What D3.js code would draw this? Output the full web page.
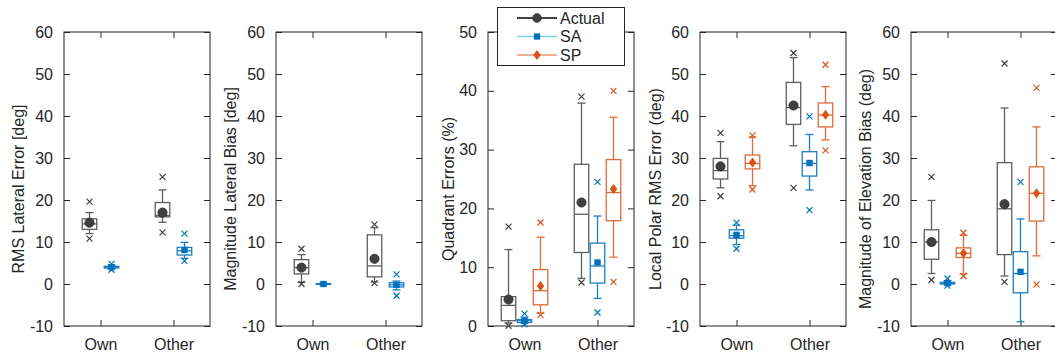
<!DOCTYPE html>
<html><head><meta charset="utf-8">
<script src="https://cdn.jsdelivr.net/npm/d3@7"></script>
<style>body{margin:0;background:#fff}svg{display:block;font-family:"Liberation Sans",Arial,sans-serif}</style>
</head><body>
<svg id="c" width="1055" height="354"></svg>
<script>
// ---------- DATA ----------
const categories = ["Own", "Other"];
const seriesNames = ["Actual", "SA", "SP"];
const yLabels = ["RMS Lateral Error [deg]", "Magnitude Lateral Bias [deg]", "Quadrant Errors (%)",
                 "Local Polar RMS Error (deg)", "Magnitude of Elevation Bias (deg)"];
const yTicksDeg = [-10, 0, 10, 20, 30, 40, 50, 60];
const yTicksPct = [0, 10, 20, 30, 40, 50];
// each stat: [whiskerLow, q1, median, q3, whiskerHigh, mean]  per category [Own, Other]
const rmsLatActual = [[12.0, 13.0, 14.3, 15.5, 17.0, 14.6], [14.7, 16.0, 16.3, 19.4, 22.4, 17.0]];
const rmsLatActualOut = [[19.6, 10.8], [25.5, 12.3]];
const rmsLatSA = [[3.6, 3.8, 4.0, 4.2, 4.5, 4.0], [6.1, 6.9, 7.9, 8.7, 9.9, 8.1]];
const rmsLatSAOut = [[4.8, 3.4], [12.0, 5.5]];

const latBiasActual = [[0.4, 2.4, 3.9, 5.8, 7.0, 3.9], [0.5, 1.7, 4.3, 11.7, 13.4, 6.0]];
const latBiasActualOut = [[8.4, 0.0], [14.2, 0.2]];
const latBiasSA = [[-0.2, -0.1, 0.0, 0.1, 0.2, 0.0], [-1.4, -0.7, -0.2, 0.3, 0.7, -0.2]];
const latBiasSAOut = [[], [2.3, -2.8]];

const quadActual = [[0.5, 0.9, 3.5, 5.0, 13.0, 4.5], [8.1, 12.5, 19.0, 27.5, 37.9, 21.0]];
const quadActualOut = [[16.9, 0.05], [39.0, 7.4]];
const quadSA = [[0.5, 0.6, 0.9, 1.1, 1.5, 0.85], [4.7, 7.3, 10.2, 14.1, 18.7, 10.8]];
const quadSAOut = [[2.1, 0.3], [24.5, 2.3]];
const quadSP = [[2.2, 3.6, 6.0, 9.6, 15.1, 6.8], [11.7, 17.9, 22.7, 28.3, 35.5, 23.3]];
const quadSPOut = [[17.6, 1.9], [40.0, 7.5]];

const polarActual = [[22.9, 25.0, 27.0, 29.9, 33.9, 28.0], [32.9, 38.0, 42.0, 48.0, 53.9, 42.5]];
const polarActualOut = [[36.0, 20.9], [55.0, 22.9]];
const polarSA = [[9.4, 10.9, 11.5, 12.9, 14.0, 11.7], [22.4, 25.7, 28.7, 31.5, 35.6, 28.8]];
const polarSAOut = [[14.6, 8.4], [39.9, 17.6]];
const polarSP = [[23.4, 27.4, 28.7, 30.7, 35.0, 28.9], [34.3, 37.4, 40.2, 43.1, 47.0, 40.3]];
const polarSPOut = [[35.4, 22.5], [52.2, 31.8]];

const elevActual = [[2.5, 5.9, 10.0, 12.9, 19.9, 10.0], [1.9, 7.0, 17.9, 28.9, 41.9, 19.0]];
const elevActualOut = [[25.5, 0.95], [52.5, 0.5]];
const elevSA = [[-0.2, 0.0, 0.2, 0.4, 0.8, 0.2], [-9.0, -2.1, 2.5, 7.7, 15.5, 2.9]];
const elevSAOut = [[1.3, -0.4], [24.3]];
const elevSP = [[2.4, 6.3, 7.3, 8.6, 11.6, 7.3], [6.7, 15.0, 21.6, 27.9, 37.4, 21.6]];
const elevSPOut = [[12.2, 1.9], [46.7, -0.1]];

// ---------- LAYOUT / STYLE ----------
const panelLefts = [64, 276, 488, 700, 911];
const labelX = [18, 230, 448, 655, 865];
const plotW = 146, plotTop = 32, plotBot = 326;
const boxColor = {Actual: "#5e5e5e", SA: "#1f7dc4", SP: "#dd6a38"};
const markColor = {Actual: "#404040", SA: "#0072BD", SP: "#D95319"};
const legendLineColor = {Actual: "#000000", SA: "#7fcdf2", SP: "#eb9673"};

const panels = [
  {domain: [-10, 60], ticks: yTicksDeg, series: [["Actual", rmsLatActual, rmsLatActualOut], ["SA", rmsLatSA, rmsLatSAOut]]},
  {domain: [-10, 60], ticks: yTicksDeg, series: [["Actual", latBiasActual, latBiasActualOut], ["SA", latBiasSA, latBiasSAOut]]},
  {domain: [0, 50], ticks: yTicksPct, series: [["Actual", quadActual, quadActualOut], ["SA", quadSA, quadSAOut], ["SP", quadSP, quadSPOut]]},
  {domain: [-10, 60], ticks: yTicksDeg, series: [["Actual", polarActual, polarActualOut], ["SA", polarSA, polarSAOut], ["SP", polarSP, polarSPOut]]},
  {domain: [-10, 60], ticks: yTicksDeg, series: [["Actual", elevActual, elevActualOut], ["SA", elevSA, elevSAOut], ["SP", elevSP, elevSPOut]]},
];

const svg = d3.select("#c");
const boxW = 14.5, capW = 8, tickLen = 6;
const axisCol = "#262626";

function drawMarker(g, name, x, y, size) {
  if (name === "Actual") {
    g.append("circle").attr("cx", x).attr("cy", y).attr("r", size || 4.6)
      .attr("fill", markColor.Actual).attr("stroke", "#2a2a2a").attr("stroke-width", 0.8);
  } else if (name === "SA") {
    const s = size ? size * 1.4 : 6.4;
    g.append("rect").attr("x", x - s / 2).attr("y", y - s / 2).attr("width", s).attr("height", s)
      .attr("fill", markColor.SA);
  } else {
    const h = size ? size * 1.1 : 5;
    g.append("path").attr("d", `M${x},${y - h}L${x + h * 0.75},${y}L${x},${y + h}L${x - h * 0.75},${y}Z`)
      .attr("fill", markColor.SP);
  }
}

panels.forEach((p, i) => {
  const left = panelLefts[i];
  const x = d3.scaleLinear().domain([0.5, 2.5]).range([left, left + plotW]);
  const y = d3.scaleLinear().domain(p.domain).range([plotBot, plotTop]);
  const g = svg.append("g");

  // y axis (left) with labels, inward ticks
  const ya = d3.axisLeft(y).tickValues(p.ticks).tickSize(-tickLen).tickPadding(11).tickFormat((d) => String(d));
  const yg = g.append("g").attr("transform", `translate(${left},0)`).call(ya);
  yg.select(".domain").remove();
  yg.selectAll("line").attr("stroke", axisCol);
  yg.selectAll("text").attr("font-size", 16).attr("fill", axisCol).attr("font-family", "Liberation Sans, Arial, sans-serif");
  // right inward ticks
  const yr = d3.axisRight(y).tickValues(p.ticks).tickSize(-tickLen).tickFormat("");
  const yrg = g.append("g").attr("transform", `translate(${left + plotW},0)`).call(yr);
  yrg.select(".domain").remove();
  yrg.selectAll("line").attr("stroke", axisCol);
  // bottom axis with category labels
  const xa = d3.axisBottom(x).tickValues([1, 2]).tickSize(-tickLen).tickPadding(13).tickFormat((d) => categories[d - 1]);
  const xg = g.append("g").attr("transform", `translate(0,${plotBot})`).call(xa);
  xg.select(".domain").remove();
  xg.selectAll("line").attr("stroke", axisCol);
  xg.selectAll("text").attr("font-size", 16).attr("fill", axisCol).attr("font-family", "Liberation Sans, Arial, sans-serif");
  const xt = d3.axisTop(x).tickValues([1, 2]).tickSize(-tickLen).tickFormat("");
  const xtg = g.append("g").attr("transform", `translate(0,${plotTop})`).call(xt);
  xtg.select(".domain").remove();
  xtg.selectAll("line").attr("stroke", axisCol);

  // box frame
  g.append("rect").attr("x", left).attr("y", plotTop).attr("width", plotW).attr("height", plotBot - plotTop)
    .attr("fill", "none").attr("stroke", axisCol).attr("stroke-width", 1);

  // y label
  g.append("text").attr("transform", `translate(${labelX[i] + 6},189) rotate(-90)`)
    .attr("text-anchor", "middle").attr("font-size", 16).attr("fill", axisCol).text(yLabels[i]);

  // boxes
  const n = p.series.length;
  const step = n === 2 ? 22 : 16;
  p.series.forEach(([name, stats, outs], si) => {
    const off = (si - (n - 1) / 2) * step;
    const col = boxColor[name];
    stats.forEach((s, ci) => {
      const cx = x(ci + 1) + off;
      const [wl, q1, med, q3, wh, mean] = s;
      const bg = g.append("g").attr("stroke", col).attr("fill", "none").attr("stroke-width", 1.3);
      bg.append("line").attr("x1", cx).attr("x2", cx).attr("y1", y(wh)).attr("y2", y(q3));
      bg.append("line").attr("x1", cx).attr("x2", cx).attr("y1", y(q1)).attr("y2", y(wl));
      bg.append("line").attr("x1", cx - capW / 2).attr("x2", cx + capW / 2).attr("y1", y(wh)).attr("y2", y(wh));
      bg.append("line").attr("x1", cx - capW / 2).attr("x2", cx + capW / 2).attr("y1", y(wl)).attr("y2", y(wl));
      bg.append("rect").attr("x", cx - boxW / 2).attr("y", y(q3)).attr("width", boxW)
        .attr("height", Math.max(0.5, y(q1) - y(q3)));
      bg.append("line").attr("x1", cx - boxW / 2).attr("x2", cx + boxW / 2).attr("y1", y(med)).attr("y2", y(med));
      // outliers
      (outs[ci] || []).forEach((o) => {
        const oy = y(o), r = 3;
        g.append("path").attr("d", `M${cx - r},${oy - r}L${cx + r},${oy + r}M${cx - r},${oy + r}L${cx + r},${oy - r}`)
          .attr("stroke", name === "Actual" ? "#404040" : markColor[name]).attr("stroke-width", 1.2);
      });
      drawMarker(g, name, cx, y(mean));
    });
  });
});

// legend
const lg = svg.append("g");
lg.append("rect").attr("x", 497.5).attr("y", 7.5).attr("width", 127).attr("height", 58)
  .attr("fill", "#fff").attr("stroke", axisCol).attr("stroke-width", 1);
const legY = d3.scalePoint().domain(seriesNames).range([18, 55]);
seriesNames.forEach((name) => {
  const yy = legY(name);
  lg.append("line").attr("x1", 517).attr("x2", 557).attr("y1", yy).attr("y2", yy)
    .attr("stroke", legendLineColor[name]).attr("stroke-width", 1.3);
  drawMarker(lg, name, 537, yy, name === "Actual" ? 4.3 : 4.5);
  lg.append("text").attr("x", 560).attr("y", yy).attr("dy", "0.35em").attr("font-size", 16)
    .attr("fill", axisCol).text(name);
});
</script>
</body></html>
